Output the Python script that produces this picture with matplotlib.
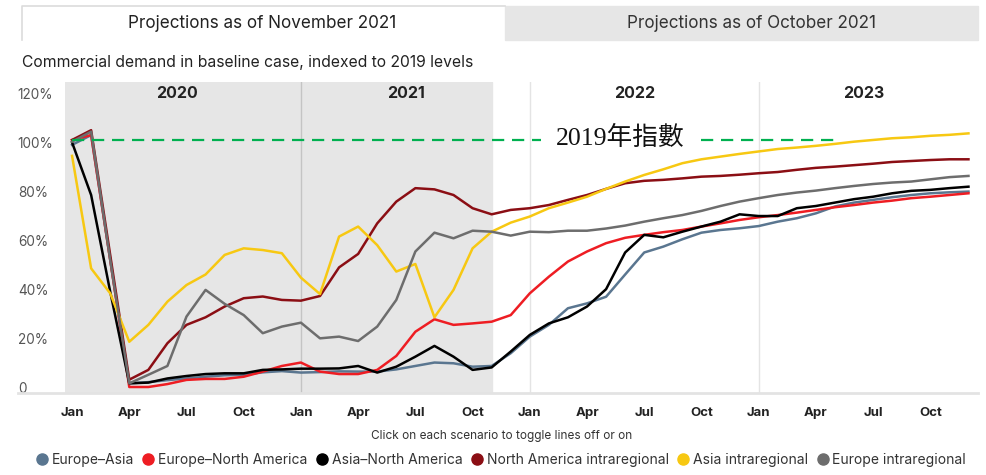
import numpy as np
import matplotlib.pyplot as plt
from matplotlib.patches import Rectangle
from matplotlib.lines import Line2D

plt.rcParams['font.family'] = ['Inter', 'DejaVu Sans']

# Meses desde ene-2020 hasta dic-2023 (índice 0..47)
meses = np.arange(48)
etiquetas_x = ["Jan", "Apr", "Jul", "Oct"] * 4
anios = ["2020", "2021", "2022", "2023"]

europe_asia = [99, 103, 52, 1.5, 2, 2.8, 3.5, 4.2, 4.8, 5, 6, 6.5,
               5.9, 6.1, 6.4, 6.3, 6.3, 7.2, 8.6, 10, 9.7, 8.3, 8.6, 13.8,
               20.6, 25.4, 32.2, 34.2, 36.9, 46, 55, 57.4, 60.4, 63.1, 64.2, 64.9,
               65.8, 67.6, 69, 71, 73.8, 75.4, 76.5, 77.6, 78.5, 79.2, 79.6, 79.9]
europe_na = [101, 103, 52, 0, 0, 1.2, 2.9, 3.3, 3.3, 4.2, 6.3, 8.6,
             10, 6.3, 5.3, 5.3, 7, 12.7, 22.6, 27.7, 25.4, 26, 26.7, 29.4,
             38.3, 45.1, 51.3, 55.4, 58.8, 61, 62.2, 63.3, 64.2, 65.6, 66.9, 68.3,
             69.4, 70.3, 71.3, 72.4, 73.5, 74.4, 75.4, 76.2, 77.2, 77.8, 78.5, 79.2]
asia_na = [100, 78.5, 39, 1.5, 1.8, 3.5, 4.5, 5.3, 5.6, 5.6, 7, 7.2,
           7.5, 7.5, 7.6, 8.6, 5.9, 8.3, 12.4, 16.8, 12.4, 7, 8, 14.5,
           21.3, 26, 28.5, 32.9, 40, 55, 62.2, 61.2, 63.5, 65.6, 67.6, 70.6,
           69.9, 69.9, 73.1, 74, 75.4, 76.8, 77.8, 79.2, 80.2, 80.6, 81.3, 81.9]
na_intra = [101, 105, 54, 3, 7, 17.9, 25.4, 28.5, 32.9, 36.3, 37, 35.6,
            35.3, 37.2, 48.9, 54.4, 66.9, 75.8, 81.3, 80.8, 78.5, 73.1, 70.6, 72.4,
            73.1, 74.4, 76.5, 78.5, 81, 83.3, 84.3, 84.7, 85.3, 86, 86.3, 86.8,
            87.4, 87.9, 88.8, 89.6, 90.1, 90.7, 91.3, 92, 92.4, 92.8, 93.1, 93.1]
asia_intra = [94.5, 48.5, 38.3, 18.5, 25.4, 34.9, 41.7, 46, 54, 56.7, 56, 54.7,
              44.7, 38, 61.5, 65.6, 58, 47.2, 50.3, 28.5, 39.7, 56.7, 63.5, 67.2,
              69.7, 73.1, 75.4, 77.8, 81, 84, 86.7, 89, 91.5, 93.1, 94.2, 95.3,
              96.3, 97.3, 97.9, 98.6, 99.4, 100.3, 101, 101.7, 102.1, 102.7, 103.1, 103.7]
europe_intra = [100.3, 104.4, 52, 1.5, 5, 8.6, 28.8, 39.7, 34, 29.4, 22, 24.7,
                26.3, 19.9, 20.6, 18.8, 24.7, 35.6, 55.4, 63.1, 60.8, 63.9, 63.5, 61.9,
                63.5, 63.3, 63.9, 63.9, 64.8, 66, 67.6, 69, 70.3, 72, 74, 75.8,
                77.2, 78.5, 79.5, 80.3, 81.3, 82.2, 83, 83.6, 84, 84.9, 85.8, 86.3]

series = [
    ("Europe–Asia", europe_asia, "#5a7690"),
    ("Europe–North America", europe_na, "#ee1d23"),
    ("Asia–North America", asia_na, "#000000"),
    ("North America intraregional", na_intra, "#8b0e14"),
    ("Asia intraregional", asia_intra, "#f7c812"),
    ("Europe intraregional", europe_intra, "#6d6d6d"),
]

fig = plt.figure(figsize=(9.87, 4.75), dpi=100)
W, H = 987, 475

# Pestañas superiores
fig.patches.append(Rectangle((505 / W, 1 - 40 / H), 473 / W, 34 / H,
                             transform=fig.transFigure, color="#e6e6e6", zorder=0))
fig.add_artist(Line2D([22 / W, 22 / W, 505 / W], [1 - 40 / H, 1 - 6 / H, 1 - 6 / H],
                      color="#dcdcdc", lw=1.2))
fig.text(262 / W, 1 - 23 / H, "Projections as of November 2021", ha="center", va="center",
         fontsize=12.3, color="#222222")
fig.text(752 / W, 1 - 23 / H, "Projections as of October 2021", ha="center", va="center",
         fontsize=12.3, color="#333333")
fig.text(22 / W, 1 - 62 / H, "Commercial demand in baseline case, indexed to 2019 levels",
         ha="left", va="center", fontsize=11.3, color="#222222")

ax = fig.add_axes([65 / W, 1 - 393 / H, 913 / W, 311 / H])
ax.set_xlim(-0.37, 47.5)
ax.set_ylim(-2.45, 124.7)

ax.axvspan(-0.37, 22, color="#e6e6e6", zorder=0)
ax.axvline(12, color="#c4c4c4", lw=1, zorder=1)
ax.axvline(24, color="#e4e4e4", lw=1, zorder=1)
ax.axvline(36, color="#e4e4e4", lw=1, zorder=1)

for i, a in enumerate(anios):
    ax.text(12 * i + 5.5, 120, a, ha="center", va="center", fontsize=11.5,
            fontweight="bold", color="#222222")

for nombre, valores, color in series:
    ax.plot(meses, valores, color=color, lw=1.8, label=nombre, zorder=3)

# Línea de referencia 2019
ax.plot([0, 24.6], [101, 101], color="#00b050", lw=1.6, dashes=(5.5, 3.5), zorder=4)
ax.plot([33, 40.2], [101, 101], color="#00b050", lw=1.6, dashes=(5.5, 3.5), zorder=4)
ax.text(28.75, 102, "2019年指數", ha="center", va="center", fontsize=18.5,
        family=["Liberation Serif", "Noto Sans CJK TC"], color="#111111", zorder=5)

ax.set_yticks([0, 20, 40, 60, 80, 100, 120])
ax.set_yticklabels(["0", "20%", "40%", "60%", "80%", "100%", "120%"])
ax.tick_params(axis="y", length=0, pad=34, labelsize=9.8, labelcolor="#555555")
for t in ax.get_yticklabels():
    t.set_horizontalalignment("left")
ax.set_xticks(np.arange(0, 48, 3))
ax.set_xticklabels(etiquetas_x, fontweight="bold")
ax.tick_params(axis="x", length=0, pad=10, labelsize=9.5, labelcolor="#222222")
for s in ax.spines.values():
    s.set_visible(False)

fig.add_artist(Line2D([18 / W, 978 / W], [1 - 393 / H, 1 - 393 / H], color="#e3e3e3", lw=2))

fig.text(502 / W, 1 - 436 / H, "Click on each scenario to toggle lines off or on",
         ha="center", va="center", fontsize=8.5, color="#333333")
handles = [Line2D([], [], marker="o", linestyle="", markersize=8, color=c)
           for _, _, c in series]
fig.legend(handles, [n for n, _, _ in series], loc="center", ncol=6,
           bbox_to_anchor=(501 / W, 1 - 460 / H), frameon=False, fontsize=10,
           handlelength=0.8, handletextpad=0.3, columnspacing=0.65,
           labelcolor="#333333")

fig.savefig("out.png", dpi=100)
